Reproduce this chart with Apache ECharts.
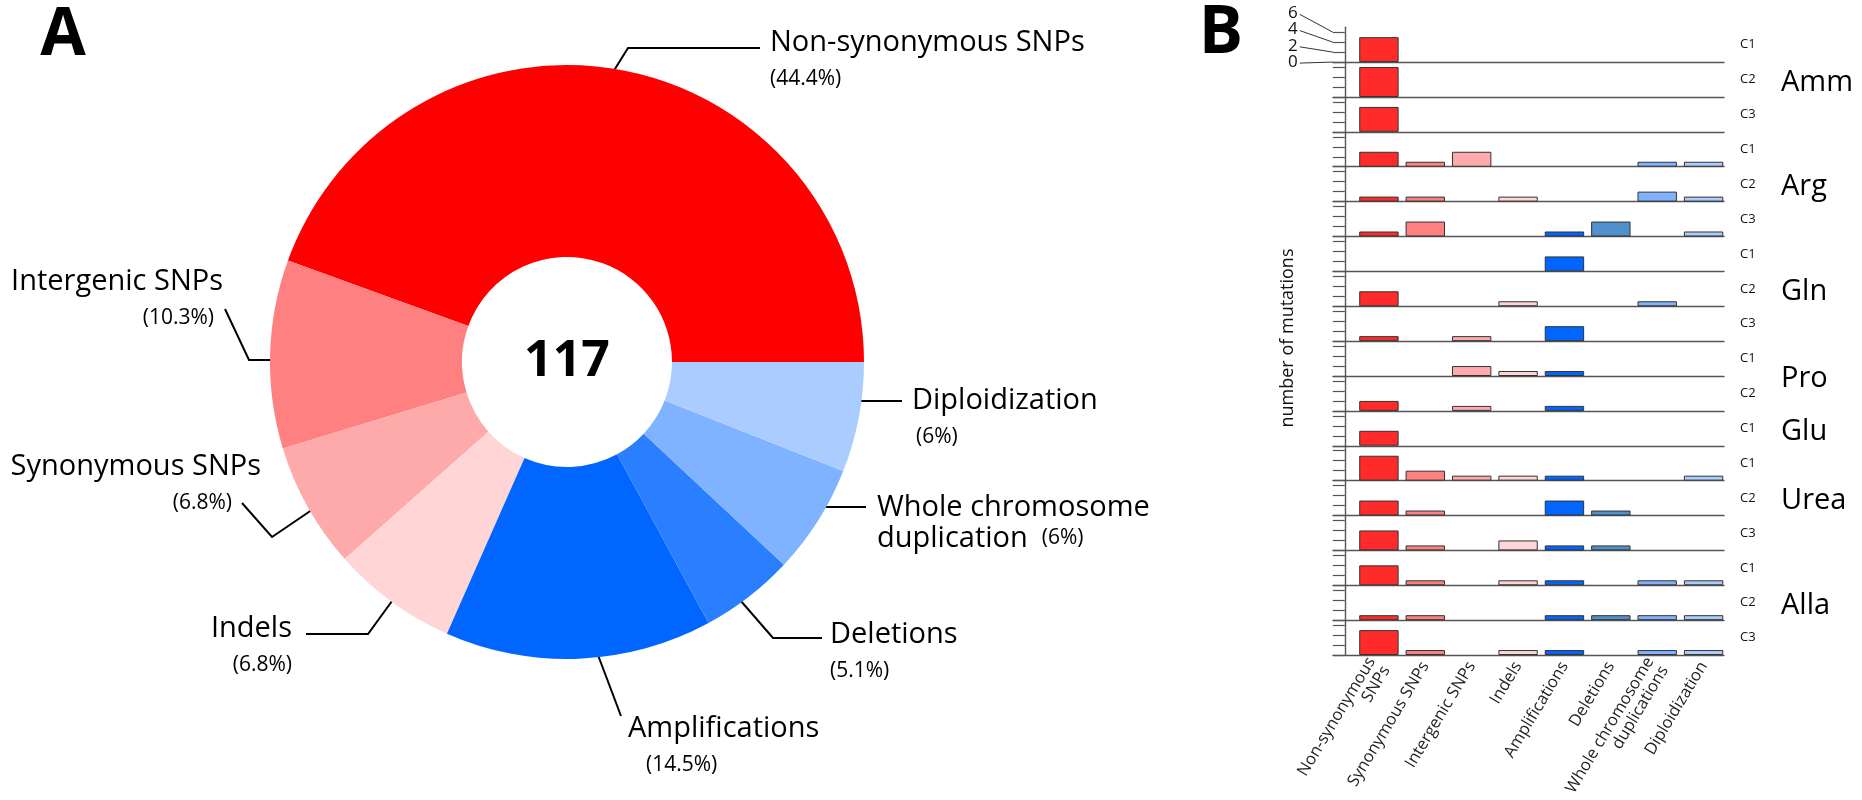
<!DOCTYPE html>
<html lang="en">
<head>
<meta charset="UTF-8">
<title>Mutations</title>
<script src="https://cdn.jsdelivr.net/npm/echarts@6.0.0/dist/echarts.min.js"></script>
<style>
    body { margin: 0; background: #fff; }
    #chart { width: 1862px; height: 800px; }
</style>
</head>
<body>
<div id="chart"></div>
<script>
    // ---- panel A : pie ----
    var pieNames = ['Non-synonymous SNPs', 'Intergenic SNPs', 'Synonymous SNPs', 'Indels',
        'Amplifications', 'Deletions', 'Whole chromosome duplication', 'Diploidization'];
    var pieValues = [52, 12, 8, 8, 17, 6, 7, 7];
    var pieColors = ['#ff0000', '#ff8080', '#ffaaaa', '#ffd5d5', '#0066ff', '#2a7fff', '#80b3ff', '#aaccff'];

    // ---- panel B : bars per culture ----
    var mutTypes = ['Non-synonymous\nSNPs', 'Synonymous SNPs', 'Intergenic SNPs', 'Indels',
        'Amplifications', 'Deletions', 'Whole chromosome\nduplications', 'Diploidization'];
    var barColors = ['#ff2a2a', '#ff8080', '#ffaaaa', '#ffd5d5', '#0066ff', '#5090cc', '#80b3ff', '#aaccff'];
    var groupNames = ['Amm', 'Arg', 'Gln', 'Pro', 'Glu', 'Urea', 'Alla'];
    var amm  = [[5,0,0,0,0,0,0,0], [6,0,0,0,0,0,0,0], [5,0,0,0,0,0,0,0]];
    var arg  = [[3,1,3,0,0,0,1,1], [1,1,0,1,0,0,2,1], [1,3,0,0,1,3,0,1]];
    var gln  = [[0,0,0,0,3,0,0,0], [3,0,0,1,0,0,1,0], [1,0,1,0,3,0,0,0]];
    var pro  = [[0,0,2,1,1,0,0,0], [2,0,1,0,1,0,0,0]];
    var glu  = [[3,0,0,0,0,0,0,0]];
    var urea = [[5,2,1,1,1,0,0,1], [3,1,0,0,3,1,0,0], [4,1,0,2,1,1,0,0]];
    var alla = [[4,1,0,1,1,0,1,1], [1,1,0,0,1,1,1,1], [5,1,0,1,1,0,1,1]];
    var groupRows = [amm, arg, gln, pro, glu, urea, alla];
    var yTicks = [0, 2, 4, 6];

    var font = "'Open Sans', sans-serif";
    var total = pieValues.reduce(function (a, b) { return a + b; }, 0);

    // label placement for the pie (x, top y, alignment, percent indent, leader line)
    var pieLabelLayout = [
        {x: 770, y: 25, align: 'left', pad: 0, line: [[549, 175], [628, 48], [760, 48]]},
        {x: 223, y: 264, align: 'right', pad: 9, line: [[304, 360], [249, 360], [225, 309]]},
        {x: 261, y: 449, align: 'right', pad: 29, line: [[353, 482], [272, 537], [242, 503]]},
        {x: 292, y: 611, align: 'right', pad: 0, line: [[419, 564], [368, 634], [306, 634]]},
        {x: 628, y: 711, align: 'left', pad: 18, line: [[581, 611], [601, 663], [621, 716]]},
        {x: 830, y: 617, align: 'left', pad: 0, line: [[714, 570], [773, 638], [822, 638]]},
        {x: 877, y: 492, align: 'left', pad: 14, line: [[782, 507], [823, 507], [866, 507]]},
        {x: 912, y: 383, align: 'left', pad: 4, line: [[830, 401], [865, 401], [902, 401]]}
    ];

    var pieRich = {
        n: {fontSize: 29, lineHeight: 36, fontFamily: font, color: '#000'},
        w: {fontSize: 29, lineHeight: 31, fontFamily: font, color: '#000'}
    };
    pieLabelLayout.forEach(function (L, i) {
        pieRich['p' + i] = {fontSize: 21, lineHeight: 36, fontFamily: font, color: '#000',
            padding: L.align === 'right' ? [0, L.pad, 0, 0] : [0, 0, 0, L.pad]};
        pieRich['q' + i] = {fontSize: 21, lineHeight: 31, fontFamily: font, color: '#000',
            padding: [0, 0, 0, L.pad]};
    });

    // bar panel geometry
    var rowTop = 27.2, rowH = 34.88, yMax = 7;
    var gridLeft = 1333, gridW = 391, axisX = 1344.8;
    var unit = rowH / yMax;

    var grids = [], xAxes = [], yAxes = [], series = [], graphics = [];

    series.push({
        type: 'pie',
        center: [567, 362],
        radius: [105, 297],
        startAngle: 0,
        clockwise: false,
        avoidLabelOverlap: false,
        silent: true,
        data: pieNames.map(function (n, i) {
            return {name: n, value: pieValues[i], itemStyle: {color: pieColors[i]}};
        }),
        label: {
            show: true,
            position: 'outside',
            color: '#000',
            fontFamily: font,
            formatter: function (p) {
                var pct = '(' + (Math.round(p.value / total * 1000) / 10) + '%)';
                var i = p.dataIndex;
                if (p.name.length > 20) {
                    var w = p.name.split(' ');
                    return '{w|' + w.slice(0, -1).join(' ') + '}\n{w|' + w[w.length - 1] + '}{q' + i + '|' + pct + '}';
                }
                return '{n|' + p.name + '}\n{p' + i + '|' + pct + '}';
            },
            rich: pieRich
        },
        labelLine: {show: true, lineStyle: {color: '#000', width: 2}},
        labelLayout: function (params) {
            var L = pieLabelLayout[params.dataIndex];
            return {x: L.x, y: L.y, align: L.align, verticalAlign: 'top', labelLinePoints: L.line};
        }
    });

    var row = 0;
    groupRows.forEach(function (rows, g) {
        var start = row;
        rows.forEach(function (vals, k) {
            var i = row;
            var last = (i === 17);
            grids.push({left: gridLeft, width: gridW, top: rowTop + i * rowH, height: rowH,
                outerBoundsMode: 'none', containLabel: false});
            xAxes.push({
                type: 'value', gridIndex: i, min: -0.99, max: 7.44,
                axisLine: {show: true, onZero: false, lineStyle: {color: '#555', width: 1.4}},
                axisTick: {show: false},
                splitLine: {show: false},
                axisLabel: {
                    show: last, customValues: [0, 1, 2, 3, 4, 5, 6, 7], rotate: 59, margin: 8,
                    fontSize: 16.5, fontFamily: font, color: '#222', lineHeight: 17,
                    formatter: function (v) { return mutTypes[v] || ''; }
                }
            });
            yAxes.push({
                type: 'value', gridIndex: i, position: 'left', offset: gridLeft - axisX,
                min: 0, max: yMax,
                axisLine: {show: true, onZero: false, lineStyle: {color: '#555', width: 1.4}},
                axisTick: {show: true, length: 12, customValues: yTicks, lineStyle: {color: '#555', width: 1.2}},
                splitLine: {show: false},
                axisLabel: {show: false}
            });
            yAxes.push({
                type: 'value', gridIndex: i, position: 'right', min: 0, max: yMax,
                name: 'C' + (k + 1), nameLocation: 'middle', nameRotate: 0, nameGap: 16,
                nameTextStyle: {fontSize: 13, fontFamily: font, color: '#111'},
                axisLine: {show: false}, axisTick: {show: false}, axisLabel: {show: false},
                splitLine: {show: false}
            });
            series.push({
                type: 'bar', name: groupNames[g] + ' C' + (k + 1),
                xAxisIndex: i, yAxisIndex: 2 * i,
                barWidth: 39.4, silent: true,
                data: vals.map(function (v, j) {
                    return {value: [j, v], itemStyle: {color: barColors[j]}};
                }).filter(function (d) { return d.value[1] > 0; }),
                itemStyle: {borderColor: '#333', borderWidth: 1}
            });
            row++;
        });
        graphics.push({
            type: 'text', x: 1781, y: rowTop + (start + rows.length / 2) * rowH + 3,
            style: {text: groupNames[g], fontSize: 29, fontFamily: font, fill: '#000',
                align: 'left', verticalAlign: 'middle', textAlign: 'left', textVerticalAlign: 'middle'}
        });
    });

    // fanned tick labels of the first row, with leader lines to their ticks
    yTicks.forEach(function (v) {
        var yt = rowTop + rowH - v * unit;
        var yl = yt - 0.63 * v * unit;
        graphics.push({
            type: 'polyline',
            shape: {points: [[axisX - 45, yl + 1], [axisX - 12, yt]]},
            style: {stroke: '#333', lineWidth: 1, fill: null}
        });
        graphics.push({
            type: 'text', x: axisX - 47, y: yl,
            style: {text: String(v), fontSize: 17, fontFamily: font, fill: '#111',
                align: 'right', verticalAlign: 'middle', textAlign: 'right', textVerticalAlign: 'middle'}
        });
    });

    graphics.push(
        {type: 'text', x: 63, y: 36, style: {text: 'A', fontSize: 66, fontWeight: 'bold', fontFamily: font, fill: '#000',
            align: 'center', verticalAlign: 'middle', textAlign: 'center', textVerticalAlign: 'middle'}},
        {type: 'text', x: 1221, y: 34, style: {text: 'B', fontSize: 66, fontWeight: 'bold', fontFamily: font, fill: '#000',
            align: 'center', verticalAlign: 'middle', textAlign: 'center', textVerticalAlign: 'middle'}},
        {type: 'text', x: 567, y: 362, style: {text: String(total), fontSize: 50, fontWeight: 'bold', fontFamily: font, fill: '#000',
            align: 'center', verticalAlign: 'middle', textAlign: 'center', textVerticalAlign: 'middle'}},
        {type: 'text', x: 1288, y: 338, rotation: Math.PI / 2,
            style: {text: 'number of mutations', fontSize: 18, fontFamily: font, fill: '#111',
                align: 'center', verticalAlign: 'middle', textAlign: 'center', textVerticalAlign: 'middle'}}
    );

    var mychart = echarts.init(document.getElementById('chart'));
    mychart.setOption({
        animation: false,
        backgroundColor: '#fff',
        grid: grids,
        xAxis: xAxes,
        yAxis: yAxes,
        series: series,
        graphic: graphics
    });
</script>
</body>
</html>
